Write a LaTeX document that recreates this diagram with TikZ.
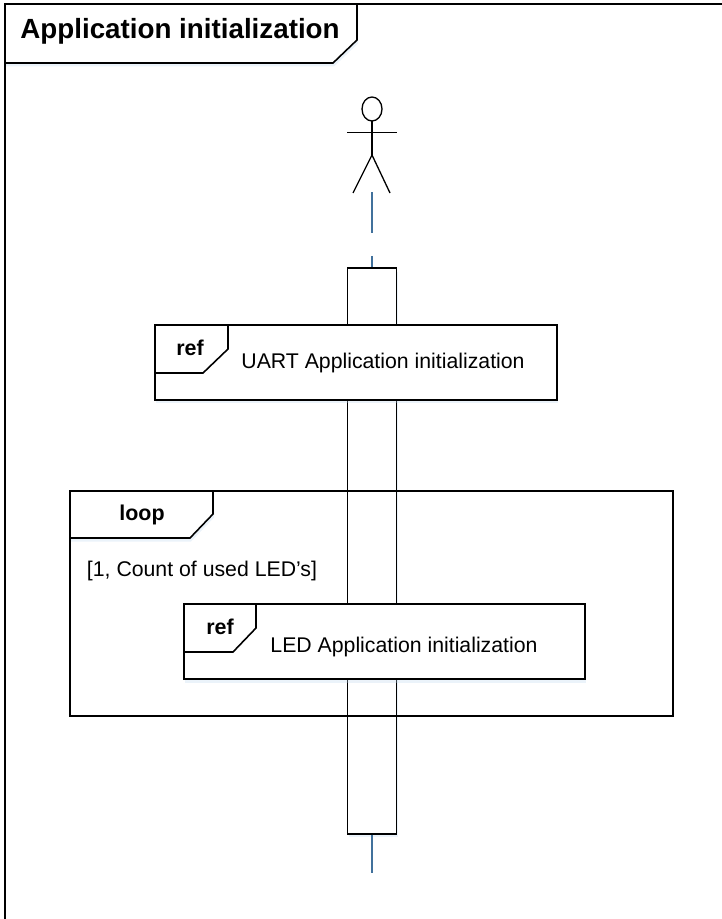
\documentclass[tikz,border=0pt]{standalone}
\usepackage{fontspec}
\setmainfont{Liberation Sans}
\usetikzlibrary{shadows}
\definecolor{LifeBlue}{HTML}{41719C}
\definecolor{GlowBlue}{HTML}{BDD7EE}
\tikzset{
  softshadow/.style={drop shadow={shadow xshift=0.02cm, shadow yshift=-0.07cm, fill=GlowBlue, opacity=0.3}},
  frameline/.style={draw=black, line width=0.9pt},
  figureline/.style={draw=black, line width=0.75pt},
  tabshape/.style={frameline, fill=white, softshadow},
  actbar/.style={frameline, fill=white, softshadow, minimum width=0.98cm, minimum height=11.32cm, inner sep=0pt},
  refbox/.style={frameline, fill=white, softshadow, minimum height=1.5cm, inner sep=0pt},
  lifeline/.style={draw=LifeBlue, line width=1pt},
  plaintext/.style={font=\fontsize{12.1}{14}\selectfont, inner sep=0pt, anchor=base},
  boldtext/.style={font=\fontsize{12.2}{14}\selectfont\bfseries, inner sep=0pt, anchor=base}
}
\begin{document}
\begin{tikzpicture}[x=0.02cm, y=-0.02cm]
      \useasboundingbox (0,0) rectangle (722,919);

      % Outer frame and title
      \draw[frameline] (5,919) -- (5,4) -- (722,4);
      \draw[tabshape] (5,4) -- (357,4) -- (357,40) -- (333,63) -- (5,63) -- cycle;
      \node[font=\fontsize{15.8}{18}\selectfont\bfseries, inner sep=0pt, anchor=base] (title) at (180,38.5) {Application initialization};

      % Actor
      \draw[figureline] (372,109) ellipse (10 and 12);
      \draw[figureline] (372,121) -- (372,155);
      \draw[figureline] (347,132.5) -- (397,132.5);
      \draw[figureline] (353,193) -- (372,155) -- (390,193);

      % Activation bar and lifeline
      \node[actbar] (bar) at (372,551) {};
      \coordinate (actorfoot) at (372,192);
      \coordinate (lifeend) at (372,873);
      \draw[lifeline, dash pattern=on 0.82cm off 0.46cm on 0.3cm] (actorfoot) -- (bar.north);
      \draw[lifeline] (bar.south) -- (lifeend);

      % UART reference
      \node[refbox, minimum width=8.04cm] (uartref) at (356,362.5) {};
      \draw[frameline, fill=white] (155,325) -- (228,325) -- (228,349) -- (203,373) -- (155,373) -- cycle;
      \node[boldtext] (uarttag) at (190,355) {ref};
      \node[plaintext] (uartlabel) at (383,368.5) {UART Application initialization};

      % Loop frame
      \draw[frameline] (70,491) rectangle (673,716);
      \draw[tabshape] (70,491) -- (213,491) -- (213,514) -- (190,538) -- (70,538) -- cycle;
      \draw[frameline] (70,491) -- (673,491);
      \node[boldtext] (looptag) at (142,520.5) {loop};
      \node[plaintext] (loopguard) at (202,576.5) {[1, Count of used LED’s]};

      % LED reference
      \node[refbox, minimum width=8.02cm] (ledref) at (384.5,641.5) {};
      \draw[frameline, fill=white] (184,604) -- (256,604) -- (256,628) -- (233,652) -- (184,652) -- cycle;
      \node[boldtext] (ledtag) at (220,634) {ref};
      \node[plaintext] (ledlabel) at (404,652.5) {LED Application initialization};

\end{tikzpicture}
\end{document}
